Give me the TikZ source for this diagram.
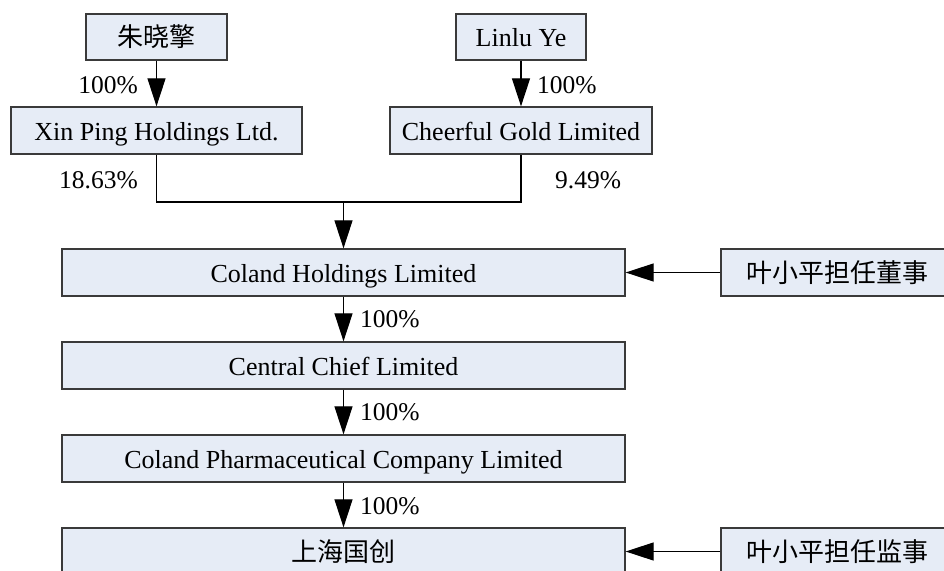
\documentclass[tikz,border=0pt]{standalone}
\usepackage{fontspec}
\setmainfont{Liberation Serif}
\newfontfamily\cjk{Noto Sans CJK SC}
\usetikzlibrary{arrows.meta}
\definecolor{boxfill}{HTML}{E6ECF6}
\definecolor{boxline}{HTML}{3A3A3A}
\tikzset{
  ent/.style={draw=boxline, fill=boxfill, line width=1.3pt, inner sep=0pt, minimum height=47pt, text height=19pt, text depth=0pt, font=\fontsize{26}{30}\selectfont},
  link/.style={draw=black, line width=1.2pt},
  arr/.style={link, -{Triangle[width=18pt,length=28pt]}},
  pct/.style={inner sep=0pt, font=\fontsize{25.5}{30}\selectfont}
}
\begin{document}
\begin{tikzpicture}[x=1pt,y=-1pt]
\useasboundingbox (0,0) rectangle (944,570);
\clip (0,0) rectangle (944,570);
\fill[white] (0,0) rectangle (944,570);
% top row
\node[ent, minimum width=141pt, minimum height=46pt] (zhu) at (156.5,37) {\cjk 朱晓擎};
\node[ent, minimum width=130pt, minimum height=46pt] (linlu) at (521,37) {Linlu Ye};
% second row
\node[ent, minimum width=291pt] (xin) at (156.5,130.5) {Xin Ping Holdings Ltd.};
\node[ent, minimum width=262pt] (cheer) at (521,130.5) {Cheerful Gold Limited};
% main chain
\node[ent, minimum width=563pt] (coland) at (343.5,272.5) {Coland Holdings Limited};
\node[ent, minimum width=563pt] (central) at (343.5,365.5) {Central Chief Limited};
\node[ent, minimum width=563pt] (pharma) at (343.5,458.5) {Coland Pharmaceutical Company Limited};
\node[ent, minimum width=563pt] (sh) at (343.5,551.5) {\cjk 上海国创};
% side boxes
\node[ent, minimum width=232pt] (ye1) at (837,272.5) {\cjk 叶小平担任董事};
\node[ent, minimum width=232pt] (ye2) at (837,551.5) {\cjk 叶小平担任监事};
% connectors
\draw[arr] (zhu.south) -- (xin.north);
\draw[arr] (linlu.south) -- (cheer.north);
\coordinate (j) at (343.5,202);
\draw[link] (xin.south) |- (j) -| (cheer.south);
\draw[arr] (j) -- (coland.north);
\draw[arr] (coland.south) -- (central.north);
\draw[arr] (central.south) -- (pharma.north);
\draw[arr] (pharma.south) -- (sh.north);
\draw[arr] (ye1.west) -- (coland.east);
\draw[arr] (ye2.west) -- (sh.east);
% labels
\node[pct, anchor=east] (l1) at (138,85) {100\%};
\node[pct, anchor=west] (l2) at (537,85) {100\%};
\node[pct, anchor=east] (l3) at (138,180) {18.63\%};
\node[pct, anchor=west] (l4) at (555,180) {9.49\%};
\node[pct, anchor=west] (l5) at (360,319) {100\%};
\node[pct, anchor=west] (l6) at (360,412) {100\%};
\node[pct, anchor=west] (l7) at (360,506) {100\%};
\end{tikzpicture}
\end{document}
